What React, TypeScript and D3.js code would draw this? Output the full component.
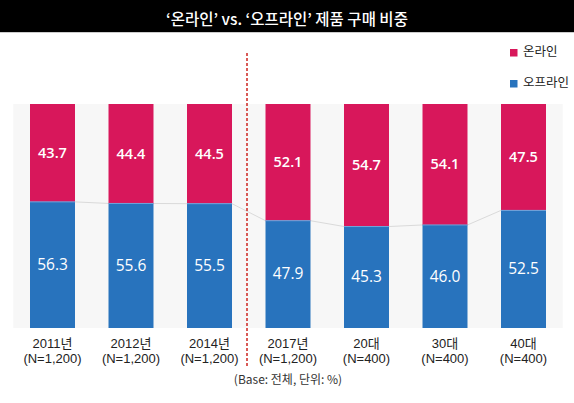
import React from "react";
import * as d3 from "d3";

const categories = ["2011년", "2012년", "2014년", "2017년", "20대", "30대", "40대"];
const sampleLabels = ["(N=1,200)", "(N=1,200)", "(N=1,200)", "(N=1,200)", "(N=400)", "(N=400)", "(N=400)"];
const online = [43.7, 44.4, 44.5, 52.1, 54.7, 54.1, 47.5];
const offline = [56.3, 55.6, 55.5, 47.9, 45.3, 46.0, 52.5];
const seriesNames = ["온라인", "오프라인"];
const title = "‘온라인’ vs. ‘오프라인’ 제품 구매 비중";
const footnote = "(Base: 전체, 단위: %)";

const W = 574;
const H = 403;
const ONLINE_COLOR = "#D8175B";
const OFFLINE_COLOR = "#2873BD";
const FONT = "'Noto Sans CJK KR', 'Noto Sans', sans-serif";
const LABEL_FONT = "'Liberation Sans', 'Noto Sans CJK KR', sans-serif";

export default function App() {
  const x = d3
    .scaleBand<string>()
    .domain(categories)
    .range([13.25, 562.75])
    .paddingInner(0.427)
    .paddingOuter(0.2135);
  const y = d3.scaleLinear().domain([0, 100]).range([328, 104]);
  const bw = x.bandwidth();

  return (
    <svg
      width={W}
      height={H}
      viewBox={`0 0 ${W} ${H}`}
      style={{ position: "absolute", left: 0, top: 0, background: "#fff" }}
      fontFamily={FONT}
    >
      <rect x={0} y={0} width={W} height={H} fill="#fff" />
      {/* title bar */}
      <rect x={0} y={0} width={W} height={32} fill="#000" />
      <line x1={0} x2={W} y1={32.5} y2={32.5} stroke="#ccc" strokeWidth={1} />
      <text x={287} y={20.5} textAnchor="middle" dominantBaseline="middle" fill="#fff" fontSize={15.5} fontWeight={500}>
        {title}
      </text>

      {/* plot background */}
      <rect x={x.range()[0]} y={y(100)} width={x.range()[1] - x.range()[0]} height={y(0) - y(100)} fill="#F7F7F7" />

      {/* connector lines */}
      {categories.slice(0, -1).map((c, i) => (
        <line
          key={"conn" + i}
          x1={(x(c) as number) + bw}
          x2={x(categories[i + 1]) as number}
          y1={y(offline[i])}
          y2={y(offline[i + 1])}
          stroke="#DADADA"
          strokeWidth={1}
        />
      ))}

      {/* bars */}
      {categories.map((c, i) => {
        const bx = x(c) as number;
        const cx = bx + bw / 2;
        return (
          <g key={c}>
            <rect x={bx} y={y(100)} width={bw} height={y(offline[i]) - y(100)} fill={ONLINE_COLOR} />
            <rect x={bx} y={y(offline[i])} width={bw} height={y(0) - y(offline[i])} fill={OFFLINE_COLOR} />
            <line x1={bx} x2={bx + bw} y1={y(offline[i])} y2={y(offline[i])} stroke="#6FA3DA" strokeWidth={1} />
            <text
              x={cx}
              y={(y(100) + y(offline[i])) / 2 + 1}
              textAnchor="middle"
              dominantBaseline="middle"
              fill="#fff"
              fontSize={14.5}
              fontFamily="'Open Sans', 'Noto Sans', sans-serif"
              fontWeight={600}
            >
              {online[i].toFixed(1)}
            </text>
            <text
              x={cx}
              y={(y(offline[i]) + y(0)) / 2 + 1}
              textAnchor="middle"
              dominantBaseline="middle"
              fill="#fff"
              fontSize={15.5}
              fontFamily="'Open Sans', 'Noto Sans', sans-serif"
            >
              {offline[i].toFixed(1)}
            </text>
            <text x={cx} y={347.5} textAnchor="middle" fill="#222" fontSize={13} fontFamily={LABEL_FONT}>
              {c}
            </text>
            <text x={cx} y={362.5} textAnchor="middle" fill="#222" fontSize={13} fontFamily={LABEL_FONT}>
              {sampleLabels[i]}
            </text>
          </g>
        );
      })}

      {/* divider */}
      <line x1={247} x2={247} y1={53} y2={366} stroke="#D0312D" strokeWidth={1.6} strokeDasharray="3,2" />

      {/* legend */}
      {seriesNames.map((s, i) => (
        <g key={s} transform={`translate(510, ${49 + i * 31})`}>
          <rect x={0} y={0} width={7.5} height={7.5} fill={i === 0 ? ONLINE_COLOR : OFFLINE_COLOR} />
          <text x={13} y={4} dominantBaseline="middle" fill="#222" fontSize={12.5}>
            {s}
          </text>
        </g>
      ))}

      {/* footnote */}
      <text x={288} y={381} textAnchor="middle" dominantBaseline="middle" fill="#333" fontSize={12}>
        {footnote}
      </text>
    </svg>
  );
}
